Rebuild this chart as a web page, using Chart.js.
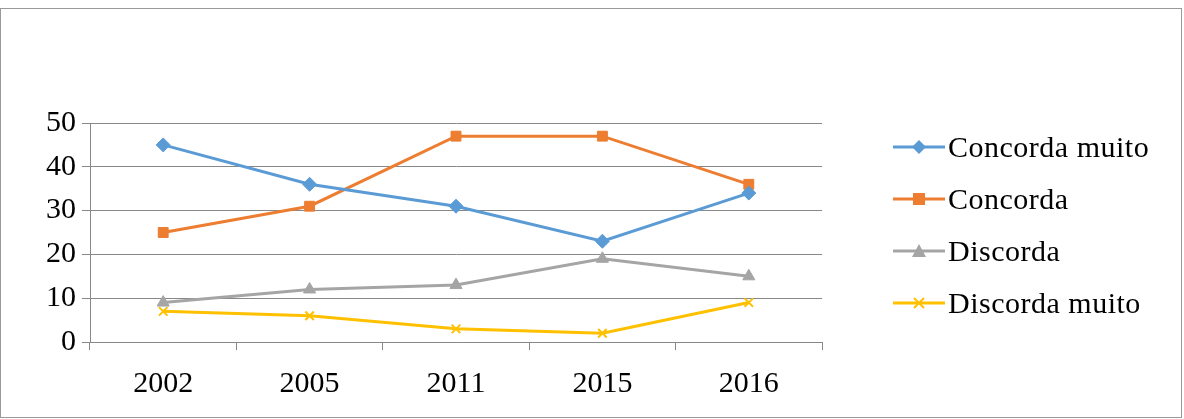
<!DOCTYPE html>
<html><head><meta charset="utf-8">
<script src="https://cdn.jsdelivr.net/npm/chart.js@4"></script>
<style>
body{margin:0;background:#fff;font-family:"Liberation Serif",serif;}
#wrap{position:relative;width:1184px;height:419px;}
#frame{position:absolute;left:0;top:8px;width:1182px;height:410px;border:1px solid #999;box-sizing:border-box;}
canvas{position:absolute;left:0;top:0;}
#legend{position:absolute;left:893px;top:121px;}
.item{display:flex;align-items:center;height:52px;font-size:30px;color:#000;letter-spacing:0.5px;}
.item svg{margin-right:3px;}
</style></head><body>
<div id="wrap"><div id="frame"></div><canvas id="c" width="1184" height="419"></canvas><div id="legend"></div></div>
<script>
const years = ['2002', '2005', '2011', '2015', '2016'];
const concordaMuito = [45, 36, 31, 23, 34];
const concorda = [25, 31, 47, 47, 36];
const discorda = [9, 12, 13, 19, 15];
const discordaMuito = [7, 6, 3, 2, 9];

const series = [
    { label: 'Concorda muito', data: concordaMuito, color: '#5B9BD5', style: 'rectRot', r: 7 },
    { label: 'Concorda', data: concorda, color: '#ED7D31', style: 'rect', r: 7 },
    { label: 'Discorda', data: discorda, color: '#A5A5A5', style: 'triangle', r: 7 },
    { label: 'Discorda muito', data: discordaMuito, color: '#FFC000', style: 'crossRot', r: 6 }
];

new Chart(document.getElementById('c'), {
    type: 'line',
    data: {
        labels: years,
        datasets: series.map(s => ({
            label: s.label, data: s.data, borderColor: s.color, backgroundColor: s.color,
            borderWidth: 3, pointStyle: s.style, pointRadius: s.r, pointBorderWidth: s.style === 'crossRot' ? 2 : 1,
            tension: 0
        }))
    },
    options: {
        responsive: false, animation: false,
        layout: { padding: { left: 0, top: 123, right: 362, bottom: 0 } },
        plugins: { legend: { display: false }, tooltip: { enabled: false } },
        scales: {
            x: {
                offset: true,
                afterFit: a => { a.height = 77; },
                grid: { display: true, drawOnChartArea: false, offset: true, color: '#888', tickLength: 8 },
                border: { color: '#888' },
                ticks: { color: '#000', font: { family: 'Liberation Serif', size: 30 }, padding: 16 }
            },
            y: {
                min: 0, max: 50,
                afterFit: a => { a.width = 90; },
                grid: { color: '#888', tickLength: 8 },
                border: { color: '#888' },
                ticks: { stepSize: 10, color: '#000', font: { family: 'Liberation Serif', size: 30 }, padding: 6 }
            }
        }
    }
});

const legend = document.getElementById('legend');
const marks = {
    rectRot: c => `<polygon points="26,3 33,10 26,17 19,10" fill="${c}"/>`,
    rect: c => `<rect x="20" y="4" width="12" height="12" fill="${c}"/>`,
    triangle: c => `<polygon points="26,3 33,16 19,16" fill="${c}"/>`,
    crossRot: c => `<path d="M21 5L31 15M31 5L21 15" stroke="${c}" stroke-width="2"/>`
};
series.forEach(s => {
    const d = document.createElement('div');
    d.className = 'item';
    d.innerHTML = `<svg width="52" height="20"><line x1="0" y1="10" x2="52" y2="10" stroke="${s.color}" stroke-width="3"/>${marks[s.style](s.color)}</svg>${s.label}`;
    legend.appendChild(d);
});
</script>
</body></html>
